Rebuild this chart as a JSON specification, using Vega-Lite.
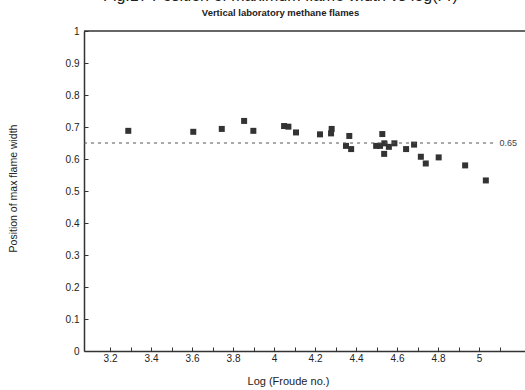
{
  "$schema": "https://vega.github.io/schema/vega-lite/v6.json",
  "width": 441,
  "height": 320,
  "autosize": "none",
  "padding": {"left": 84, "top": 31, "right": 0, "bottom": 39},
  "background": "white",
  "config": {
    "view": {"stroke": null},
    "font": "Liberation Sans"
  },
  "title": {
    "text": "Fig.17  Position of maximum flame width vs log(Fr)",
    "subtitle": "Vertical laboratory methane flames",
    "fontSize": 16,
    "fontWeight": "normal",
    "color": "#222",
    "subtitleFontSize": 9.5,
    "subtitleFontWeight": "bold",
    "subtitleColor": "#222",
    "subtitlePadding": 4,
    "offset": 9,
    "anchor": "middle",
    "dx": -24
  },
  "datasets": {
    "pts": [
      {"logFr": 3.289, "pos": 0.688},
      {"logFr": 3.606, "pos": 0.685},
      {"logFr": 3.745, "pos": 0.694},
      {"logFr": 3.854, "pos": 0.719},
      {"logFr": 3.899, "pos": 0.688},
      {"logFr": 4.049, "pos": 0.703},
      {"logFr": 4.070, "pos": 0.701},
      {"logFr": 4.107, "pos": 0.683},
      {"logFr": 4.224, "pos": 0.677},
      {"logFr": 4.281, "pos": 0.694},
      {"logFr": 4.278, "pos": 0.680},
      {"logFr": 4.367, "pos": 0.672},
      {"logFr": 4.351, "pos": 0.641},
      {"logFr": 4.376, "pos": 0.631},
      {"logFr": 4.528, "pos": 0.678},
      {"logFr": 4.498, "pos": 0.641},
      {"logFr": 4.517, "pos": 0.641},
      {"logFr": 4.538, "pos": 0.649},
      {"logFr": 4.560, "pos": 0.638},
      {"logFr": 4.587, "pos": 0.649},
      {"logFr": 4.537, "pos": 0.616},
      {"logFr": 4.644, "pos": 0.631},
      {"logFr": 4.683, "pos": 0.645},
      {"logFr": 4.716, "pos": 0.607},
      {"logFr": 4.740, "pos": 0.586},
      {"logFr": 4.803, "pos": 0.605},
      {"logFr": 4.932, "pos": 0.580},
      {"logFr": 5.033, "pos": 0.533}
    ],
    "ref": [
      {"logFr": 3.073, "logFrEnd": 5.08, "pos": 0.65}
    ],
    "reflabel": [
      {"logFr": 5.1, "pos": 0.65, "label": "0.65"}
    ],
    "frame": [
      {"logFr": 3.073, "logFrEnd": 5.224, "pos": 1}
    ]
  },
  "encoding": {
    "x": {
      "field": "logFr",
      "type": "quantitative",
      "scale": {"domain": [3.073, 5.224], "nice": false, "zero": false},
      "axis": {
        "title": "Log (Froude no.)",
        "values": [3.2,3.3,3.4,3.5,3.6,3.7,3.8,3.9,4.0,4.1,4.2,4.3,4.4,4.5,4.6,4.7,4.8,4.9,5.0,5.1],
        "labelExpr": "round(datum.value*10)%2==0 ? format(datum.value,'~g') : ''",
        "grid": false,
        "domainColor": "#333",
        "domainWidth": 1.5,
        "tickColor": "#333",
        "tickSize": -4,
        "labelPadding": 6,
        "labelFontSize": 10,
        "labelColor": "#222",
        "labelFlush": false,
        "labelOverlap": false,
        "titleFontSize": 11,
        "titleFontWeight": "normal",
        "titleColor": "#222",
        "titleX": 204,
        "titleY": 30,
        "titleBaseline": "middle"
      }
    },
    "y": {
      "field": "pos",
      "type": "quantitative",
      "scale": {"domain": [0, 1], "nice": false},
      "axis": {
        "title": "Position of max flame width",
        "values": [0,0.1,0.2,0.3,0.4,0.5,0.6,0.7,0.8,0.9,1],
        "labelExpr": "format(datum.value,'~g')",
        "grid": false,
        "domainColor": "#333",
        "domainWidth": 1.5,
        "tickColor": "#333",
        "tickSize": -4,
        "labelPadding": 9,
        "labelFontSize": 10,
        "labelColor": "#222",
        "labelFlush": false,
        "labelOverlap": false,
        "titleFontSize": 10.5,
        "titleFontWeight": "normal",
        "titleColor": "#222",
        "titleAngle": -90,
        "titleX": -71,
        "titleY": 157,
        "titleAlign": "center",
        "titleBaseline": "middle"
      }
    }
  },
  "layer": [
    {
      "data": {"name": "pts"},
      "mark": {"type": "point", "shape": "square", "filled": true, "color": "#333", "size": 36, "opacity": 1}
    },
    {
      "data": {"name": "ref"},
      "mark": {"type": "rule", "strokeDash": [3, 4], "color": "#555", "strokeWidth": 1},
      "encoding": {"x2": {"field": "logFrEnd"}}
    },
    {
      "data": {"name": "reflabel"},
      "mark": {"type": "text", "align": "left", "baseline": "middle", "fontSize": 9, "color": "#444"},
      "encoding": {"text": {"field": "label"}}
    },
    {
      "data": {"name": "frame"},
      "mark": {"type": "rule", "color": "#333", "strokeWidth": 1.5},
      "encoding": {"x2": {"field": "logFrEnd"}}
    }
  ]
}
